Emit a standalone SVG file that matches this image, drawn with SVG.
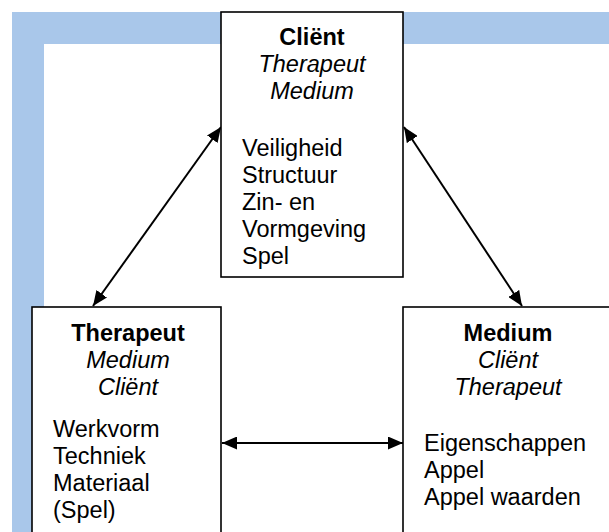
<svg xmlns="http://www.w3.org/2000/svg" width="609" height="532" viewBox="0 0 609 532">
<style>
  .band { fill: #A9C7EA; }
  .box { fill: #ffffff; stroke: #000000; stroke-width: 1.6; }
  text { font-family: "Liberation Sans", Arial, sans-serif; font-size: 23.5px; fill: #000000; }
  .title { font-weight: bold; text-anchor: middle; }
  .sub { font-style: italic; text-anchor: middle; }
  .conn { stroke: #000000; stroke-width: 2; fill: none; marker-start: url(#arrow); marker-end: url(#arrow); }
</style>
<defs>
  <marker id="arrow" markerUnits="userSpaceOnUse" markerWidth="16" markerHeight="13" refX="15" refY="6.5" orient="auto-start-reverse">
    <path d="M0,0 L15,6.5 L0,13 z" fill="#000000"/>
  </marker>
</defs>
<rect width="609" height="532" fill="#ffffff"/>
<g id="frame">
  <rect class="band" x="12" y="12" width="597" height="32"/>
  <rect class="band" x="12" y="12" width="32" height="520"/>
</g>
<g id="connectors">
  <line class="conn" x1="221" y1="127" x2="93" y2="306"/>
  <line class="conn" x1="404" y1="127" x2="522" y2="306"/>
  <line class="conn" x1="222" y1="443" x2="403" y2="443"/>
</g>
<g id="client">
  <rect class="box" x="221" y="12" width="182" height="265"/>
  <text class="title" x="312" y="45">Cliënt</text>
  <text class="sub" x="312" y="72">Therapeut</text>
  <text class="sub" x="312" y="99">Medium</text>
  <text x="242" y="156">Veiligheid</text>
  <text x="242" y="183">Structuur</text>
  <text x="242" y="210">Zin- en</text>
  <text x="242" y="237">Vormgeving</text>
  <text x="242" y="264">Spel</text>
</g>
<g id="therapeut">
  <rect class="box" x="32" y="307" width="189" height="240"/>
  <text class="title" x="128" y="341">Therapeut</text>
  <text class="sub" x="128" y="368">Medium</text>
  <text class="sub" x="128" y="395">Cliënt</text>
  <text x="53" y="437">Werkvorm</text>
  <text x="53" y="464">Techniek</text>
  <text x="53" y="491">Materiaal</text>
  <text x="53" y="518">(Spel)</text>
</g>
<g id="medium">
  <rect class="box" x="403" y="307" width="212" height="240"/>
  <text class="title" x="508" y="341">Medium</text>
  <text class="sub" x="508" y="368">Cliënt</text>
  <text class="sub" x="508" y="395">Therapeut</text>
  <text x="424" y="451">Eigenschappen</text>
  <text x="424" y="478">Appel</text>
  <text x="424" y="505">Appel waarden</text>
</g>
</svg>
